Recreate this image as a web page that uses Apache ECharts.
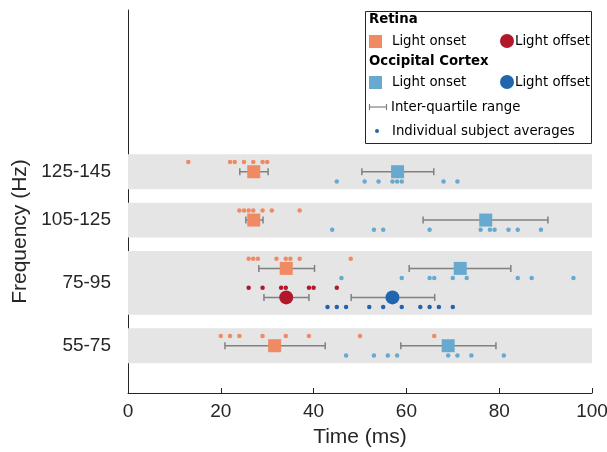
<!DOCTYPE html>
<html>
<head>
<meta charset="utf-8">
<script src="https://cdn.jsdelivr.net/npm/echarts@6/dist/echarts.min.js"></script>
<style>
html, body { margin: 0; padding: 0; background: #fff; }
#chart { width: 607px; height: 452px; }
</style>
</head>
<body>
<div id="chart"></div>
<script>
// frequency bands, bottom to top
const bandNames = ["55-75", "75-95", "105-125", "125-145"];

// light onset, one entry per band
const retinaOnsetDots = [
  [20, 22, 24, 29, 34, 39, 50, 66],
  [26, 27, 28, 32, 34, 35, 37, 48],
  [24, 25, 26, 27, 29, 31, 37],
  [13, 22, 23, 25, 27, 29, 30]
];
const retinaOnsetMedian = [31.6, 34.1, 27.1, 27.1];
const retinaOnsetIqr = [[20.9, 42.5], [28.2, 40.2], [25.4, 29.1], [24.1, 30.2]];

const cortexOnsetDots = [
  [47, 53, 56, 58, 69, 71, 74, 81],
  [46, 59, 65, 66, 70, 73, 84, 87, 96],
  [44, 53, 55, 65, 76, 78, 79, 82, 84, 89],
  [45, 51, 54, 57, 58, 59, 68, 71]
];
const cortexOnsetMedian = [69.0, 71.6, 77.1, 58.1];
const cortexOnsetIqr = [[58.8, 79.3], [60.6, 82.5], [63.6, 90.5], [50.4, 65.9]];

// light offset, 75-95 Hz only
const retinaOffsetDots = [26, 29, 33, 34, 39, 40, 45];
const retinaOffsetMedian = 34.1;
const retinaOffsetIqr = [29.3, 39.0];
const cortexOffsetDots = [43, 45, 47, 52, 55, 59, 63, 65, 67, 70];
const cortexOffsetMedian = 57.0;
const cortexOffsetIqr = [48.1, 66.1];

// layout of the rows on the y value axis
const onsetRow = [1, 9, 14, 19];
const offsetRow = 6;
const offsetBand = 1;
const labelRow = [1, 7.5, 14, 19];
const bandPad = 1.8;
const dotShift = 1;

const C = {
  retOn: "#ef8a62",
  retOff: "#b2182b",
  ctxOn: "#67a9cf",
  ctxOff: "#2166ac",
  band: "#e5e5e5",
  whisker: "#808080",
  axis: "#262626"
};

function dotsAt(values, y) {
  return values.map(v => [v, y]);
}

const retOnDotData = [], ctxOnDotData = [], retOnMed = [], ctxOnMed = [], iqrData = [];
bandNames.forEach((name, i) => {
  const y = onsetRow[i];
  retOnDotData.push(...dotsAt(retinaOnsetDots[i], y + dotShift));
  ctxOnDotData.push(...dotsAt(cortexOnsetDots[i], y - dotShift));
  retOnMed.push([retinaOnsetMedian[i], y]);
  ctxOnMed.push([cortexOnsetMedian[i], y]);
  iqrData.push([retinaOnsetIqr[i][0], retinaOnsetIqr[i][1], y]);
  iqrData.push([cortexOnsetIqr[i][0], cortexOnsetIqr[i][1], y]);
});
iqrData.push([retinaOffsetIqr[0], retinaOffsetIqr[1], offsetRow]);
iqrData.push([cortexOffsetIqr[0], cortexOffsetIqr[1], offsetRow]);

const bandAreas = bandNames.map((name, i) => {
  let lo = onsetRow[i] - bandPad, hi = onsetRow[i] + bandPad;
  if (i === offsetBand) lo = offsetRow - bandPad;
  return [{ yAxis: lo }, { yAxis: hi }];
});

const chart = echarts.init(document.getElementById("chart"));

const legendFont = "DejaVu Sans";
function legendText(x, y, text, bold) {
  return {
    type: "text", x: x, y: y, z: 101,
    style: { text: text, fill: "#000", font: (bold ? "bold " : "") + "13.3px " + legendFont, verticalAlign: "middle" }
  };
}

const option = {
  animation: false,
  grid: { left: 128, right: 15, top: 10, bottom: 59, outerBoundsMode: "none" },
  xAxis: {
    type: "value", min: 0, max: 100, interval: 20,
    name: "Time (ms)", nameLocation: "middle", nameGap: 34,
    nameTextStyle: { fontFamily: "Liberation Sans", fontSize: 21, color: C.axis },
    axisLine: { onZero: false, lineStyle: { color: C.axis, width: 1 } },
    axisTick: { inside: true, length: 5, lineStyle: { color: C.axis } },
    axisLabel: { fontFamily: "Liberation Sans", fontSize: 19, color: C.axis, margin: 9 },
    splitLine: { show: false }
  },
  yAxis: {
    type: "value", min: -3.89, max: 35.73,
    name: "Frequency (Hz)", nameLocation: "middle", nameGap: 92,
    nameTextStyle: { fontFamily: "Liberation Sans", fontSize: 21, color: C.axis, padding: [0, 60, 0, 0] },
    axisLine: { show: true, onZero: false, lineStyle: { color: C.axis, width: 1 } },
    axisTick: { show: false },
    axisLabel: {
      fontFamily: "Liberation Sans", fontSize: 19, color: C.axis, margin: 17,
      customValues: labelRow,
      formatter: v => {
        const i = labelRow.indexOf(v);
        return i >= 0 ? bandNames[i] : "";
      }
    },
    splitLine: { show: false }
  },
  series: [
    {
      type: "scatter", data: [], z: 1, silent: true,
      markArea: { silent: true, itemStyle: { color: C.band }, data: bandAreas }
    },
    {
      type: "custom", z: 2, silent: true,
      encode: { x: [0, 1], y: 2 },
      data: iqrData,
      renderItem: (params, api) => {
        const y = api.value(2);
        const a = api.coord([api.value(0), y]);
        const b = api.coord([api.value(1), y]);
        const h = 3.5;
        const st = { stroke: C.whisker, lineWidth: 1.5 };
        return {
          type: "group",
          children: [
            { type: "line", shape: { x1: a[0], y1: a[1], x2: b[0], y2: b[1] }, style: st },
            { type: "line", shape: { x1: a[0], y1: a[1] - h, x2: a[0], y2: a[1] + h }, style: st },
            { type: "line", shape: { x1: b[0], y1: b[1] - h, x2: b[0], y2: b[1] + h }, style: st }
          ]
        };
      }
    },
    { type: "scatter", z: 3, symbolSize: 4.5, itemStyle: { color: C.retOn, opacity: 1 }, data: retOnDotData },
    { type: "scatter", z: 3, symbolSize: 4.5, itemStyle: { color: C.ctxOn, opacity: 1 }, data: ctxOnDotData },
    { type: "scatter", z: 3, symbolSize: 4.5, itemStyle: { color: C.retOff, opacity: 1 }, data: dotsAt(retinaOffsetDots, offsetRow + dotShift) },
    { type: "scatter", z: 3, symbolSize: 4.5, itemStyle: { color: C.ctxOff, opacity: 1 }, data: dotsAt(cortexOffsetDots, offsetRow - dotShift) },
    { type: "scatter", z: 4, symbol: "rect", symbolSize: 13, itemStyle: { color: C.retOn, opacity: 1 }, data: retOnMed },
    { type: "scatter", z: 4, symbol: "rect", symbolSize: 13, itemStyle: { color: C.ctxOn, opacity: 1 }, data: ctxOnMed },
    { type: "scatter", z: 4, symbol: "circle", symbolSize: 14, itemStyle: { color: C.retOff, opacity: 1 }, data: [[retinaOffsetMedian, offsetRow]] },
    { type: "scatter", z: 4, symbol: "circle", symbolSize: 14, itemStyle: { color: C.ctxOff, opacity: 1 }, data: [[cortexOffsetMedian, offsetRow]] }
  ],
  graphic: [
    { type: "rect", x: 365.5, y: 11.5, z: 100, shape: { width: 226, height: 132 }, style: { fill: "#fff", stroke: C.axis, lineWidth: 1 } },
    legendText(369, 20, "Retina", true),
    { type: "rect", x: 369, y: 35, z: 101, shape: { width: 13, height: 13 }, style: { fill: C.retOn } },
    legendText(392, 41.5, "Light onset"),
    { type: "circle", x: 507, y: 41, z: 101, shape: { r: 7 }, style: { fill: C.retOff } },
    legendText(515, 41.5, "Light offset"),
    legendText(369, 62, "Occipital Cortex", true),
    { type: "rect", x: 369, y: 76, z: 101, shape: { width: 13, height: 13 }, style: { fill: C.ctxOn } },
    legendText(392, 82.5, "Light onset"),
    { type: "circle", x: 507, y: 82, z: 101, shape: { r: 7 }, style: { fill: C.ctxOff } },
    legendText(515, 82.5, "Light offset"),
    {
      type: "group", x: 369, y: 103, z: 101,
      children: [
        { type: "line", z: 101, shape: { x1: 0, y1: 4, x2: 18, y2: 4 }, style: { stroke: C.whisker, lineWidth: 1.2 } },
        { type: "line", z: 101, shape: { x1: 0.5, y1: 1, x2: 0.5, y2: 7 }, style: { stroke: C.whisker, lineWidth: 1.2 } },
        { type: "line", z: 101, shape: { x1: 17.5, y1: 1, x2: 17.5, y2: 7 }, style: { stroke: C.whisker, lineWidth: 1.2 } }
      ]
    },
    legendText(391, 107.5, "Inter-quartile range"),
    { type: "circle", x: 377, y: 131, z: 101, shape: { r: 2 }, style: { fill: C.ctxOff } },
    legendText(392, 131.5, "Individual subject averages")
  ]
};

chart.setOption(option);
</script>
</body>
</html>
